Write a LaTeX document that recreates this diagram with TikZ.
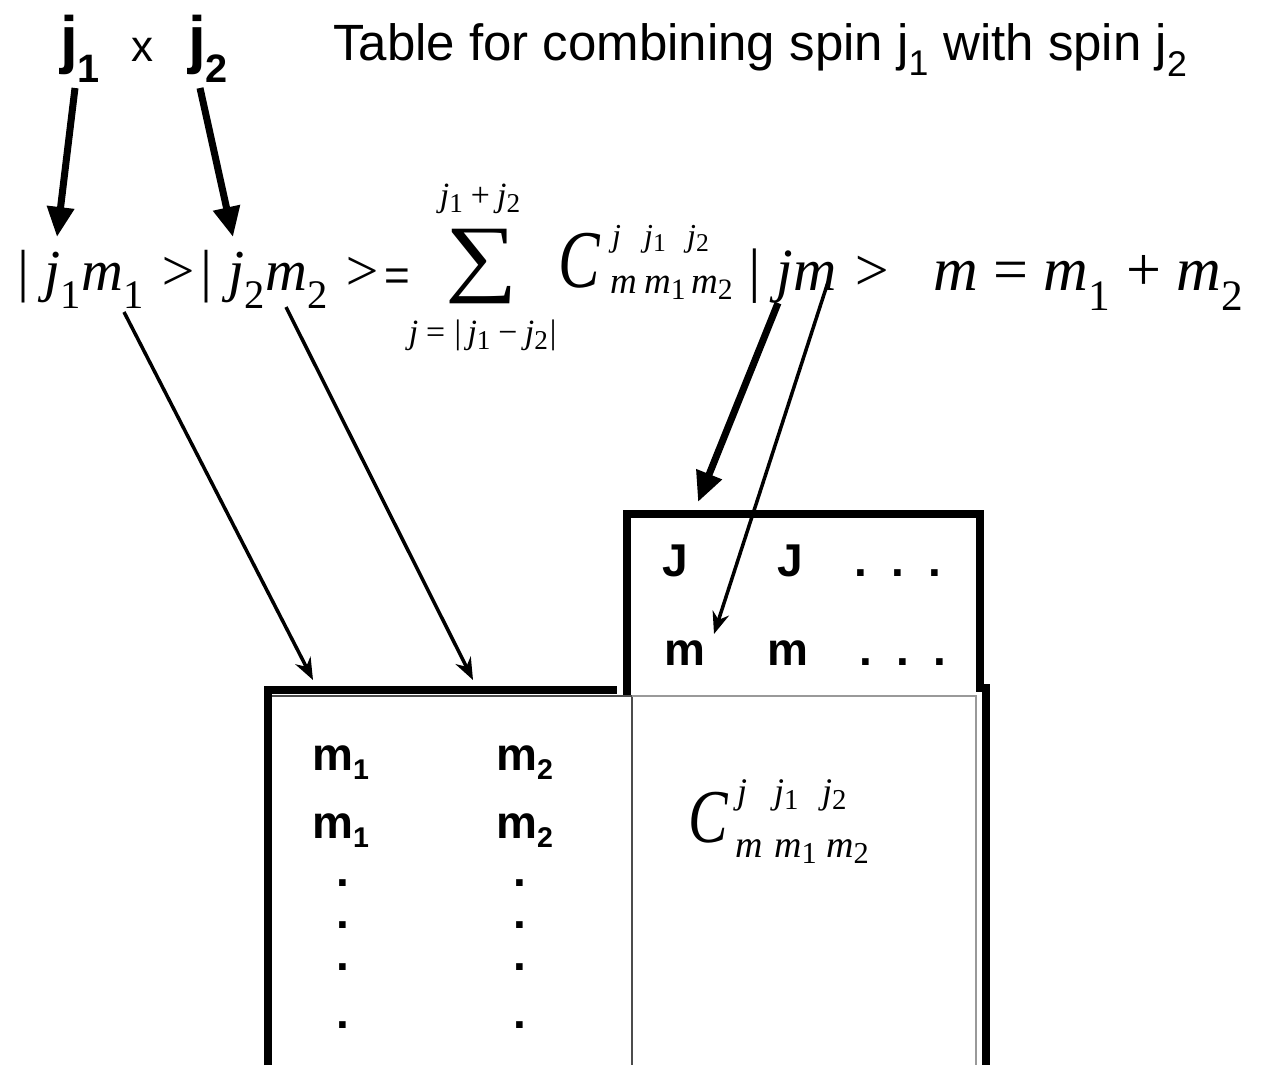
\documentclass[tikz,border=0pt]{standalone}
\usepackage{fontspec}
\usepackage{graphicx}
\setmainfont{Liberation Serif}
\setsansfont{Liberation Sans}
\usetikzlibrary{arrows.meta}
\newcommand\fsz[1]{\fontsize{#1}{#1}\selectfont}
\newcommand\ssub[1]{\textsubscript{\upshape #1}}
\newcommand\bsub[1]{\raisebox{-0.32em}{\scalebox{0.62}{#1}}}
\newcommand\lsub[1]{\raisebox{-0.18em}{\scalebox{0.8}{\upshape #1}}}
\newcommand\tsub[1]{\raisebox{-0.2em}{\scalebox{0.62}{#1}}}
\begin{document}
\begin{tikzpicture}[x=1pt,y=-1pt,
  lab/.style={inner sep=0pt, anchor=base west},
  labc/.style={inner sep=0pt, anchor=base},
  bigarrow/.style={line width=7pt, -{Triangle[length=30pt,width=26pt]}},
  slimarrow/.style={line width=3.5pt, -{Stealth[length=22pt,width=17pt]}},
  border/.style={line width=8pt},
  hair/.style={line width=1.5pt, black!70},
  sansb/.style={font=\sffamily\bfseries\fsz{46}},
  eq/.style={font=\itshape\fsz{58}}]
\useasboundingbox (0,0) rectangle (1265,1065);
% title
\node[lab, font=\sffamily\bfseries\fsz{64}] (j1) at (60,62) {j\bsub{1}};
\node[lab, font=\sffamily\fsz{44}] (x) at (131,62) {x};
\node[lab, font=\sffamily\bfseries\fsz{64}] (j2) at (188,62) {j\bsub{2}};
\node[lab, font=\sffamily\fsz{51}] (title) at (333,60) {Table for combining spin j\textsubscript{1} with spin j\textsubscript{2}};
% equation
\node[lab, eq] (eqA) at (14,290) {| j\ssub{1}m\ssub{1} >| j\ssub{2}m\ssub{2} >};
\node[lab, font=\sffamily\fsz{44}] (eqeq) at (384,290) {=};
\node[inner sep=0pt, font=\fsz{86}] (sum) at (482,266) {\scalebox{1.18}[1]{∑}};
\node[labc, font=\itshape\fsz{34}] (up) at (480,206) {j\lsub{1}\,+\,j\lsub{2}};
\node[labc, font=\itshape\fsz{34}] (lo) at (483,343) {j\,=\,|\,j\lsub{1}\,−\,j\lsub{2}|};
\node[lab, font=\itshape\fsz{82}] (C) at (558,287) {\scalebox{0.76}[1]{C}};
\node[lab, font=\itshape\fsz{32}] (s1) at (612,246) {j};
\node[lab, font=\itshape\fsz{32}] (s2) at (644,246) {j\lsub{1}};
\node[lab, font=\itshape\fsz{32}] (s3) at (687,246) {j\lsub{2}};
\node[lab, font=\itshape\fsz{37}] (b1) at (610,293) {m};
\node[lab, font=\itshape\fsz{37}] (b2) at (644,293) {m\lsub{1}};
\node[lab, font=\itshape\fsz{37}] (b3) at (691,293) {m\lsub{2}};
\node[lab, eq, font=\itshape\fsz{60}] (jm) at (745,290) {| jm >};
\node[lab, eq, font=\itshape\fsz{62}] (msum) at (933,290) {m {\upshape=} m\ssub{1} {\upshape+} m\ssub{2}};
% table borders
\draw[border] (627,696) -- (627,514) -- (980,514) -- (980,692);
\draw[border] (268,1065) -- (268,690) -- (617,690);
\draw[border] (986,684) -- (986,1065);
\draw[hair] (272,696) -- (632,696) -- (632,1065);
\draw[hair, black!40] (632,696) -- (976,696) -- (976,1065);
% upper right box text
\node[labc, sansb] (J1) at (675,576) {J};
\node[labc, sansb] (J2) at (790,576) {J};
\node[labc, sansb] (Jd) at (898,576) {.\hspace{24pt}.\hspace{24pt}.};
\node[labc, sansb] (mA) at (685,665) {m};
\node[labc, sansb] (mB) at (788,665) {m};
\node[labc, sansb] (md) at (903,665) {.\hspace{24pt}.\hspace{24pt}.};
% left box text
\node[lab, sansb] (m1a) at (312,770) {m\tsub{1}};
\node[lab, sansb] (m2a) at (496,770) {m\tsub{2}};
\node[lab, sansb] (m1b) at (312,838) {m\tsub{1}};
\node[lab, sansb] (m2b) at (496,838) {m\tsub{2}};
\foreach \yy [count=\i] in {886,928,970,1028}{
  \node[labc, sansb] (dl\i) at (343,\yy) {.};
  \node[labc, sansb] (dr\i) at (520,\yy) {.};
}
\node[lab, font=\itshape\fsz{76}] (C2) at (688,842) {\scalebox{0.78}[1]{C}};
\node[lab, font=\itshape\fsz{36}] (t1) at (737,803) {j};
\node[lab, font=\itshape\fsz{36}] (t2) at (774,803) {j\lsub{1}};
\node[lab, font=\itshape\fsz{36}] (t3) at (822,803) {j\lsub{2}};
\node[lab, font=\itshape\fsz{38}] (u1) at (735,857) {m};
\node[lab, font=\itshape\fsz{38}] (u2) at (774,857) {m\lsub{1}};
\node[lab, font=\itshape\fsz{38}] (u3) at (826,857) {m\lsub{2}};
% arrow end points
\coordinate (a1s) at (75,88);   \coordinate (a1e) at (57,237);
\coordinate (a2s) at (200,88);  \coordinate (a2e) at (233,237);
\coordinate (a3s) at (124,312); \coordinate (a3e) at (313,680);
\coordinate (a4s) at (286,307); \coordinate (a4e) at (473,680);
\coordinate (a5s) at (778,303); \coordinate (a5e) at (698,502);
\coordinate (a6s) at (828,282); \coordinate (a6e) at (714,634);
\draw[bigarrow] (a1s) -- (a1e);
\draw[bigarrow] (a2s) -- (a2e);
\draw[slimarrow] (a3s) -- (a3e);
\draw[slimarrow] (a4s) -- (a4e);
\draw[bigarrow] (a5s) -- (a5e);
\draw[slimarrow] (a6s) -- (a6e);
\end{tikzpicture}
\end{document}
